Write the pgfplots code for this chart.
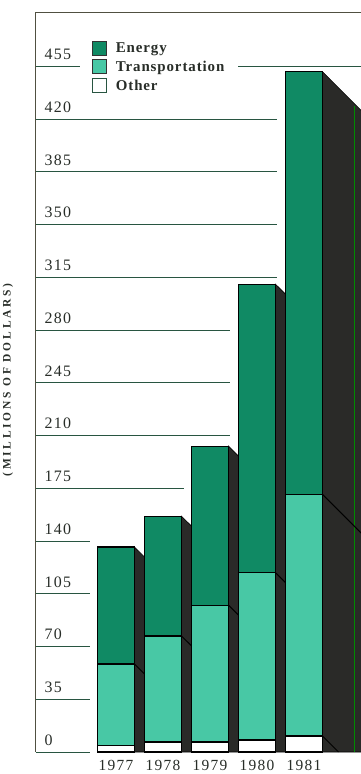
\documentclass[border=0pt]{standalone}
\usepackage{fontspec}
\setmainfont[LetterSpace=8]{Liberation Serif}
\newfontfamily\lblfont[LetterSpace=24]{Liberation Serif}
\newfontfamily\legfont[LetterSpace=6]{Liberation Serif}
\usepackage{pgfplots}
\pgfplotsset{compat=1.18}
\definecolor{energy}{RGB}{16,138,100}
\definecolor{transp}{RGB}{72,200,165}
\definecolor{shade}{RGB}{42,42,40}
\definecolor{gridc}{RGB}{40,85,65}
\definecolor{txt}{RGB}{40,45,40}
\definecolor{frame}{RGB}{80,80,65}
\begin{document}
\begin{tikzpicture}
\useasboundingbox (0,0) rectangle (361bp,774bp);
\begin{axis}[
  at={(36bp,22bp)}, anchor=south west,
  scale only axis, width=325bp, height=739bp,
  xmin=-1.7021, xmax=5.2128, ymin=0, ymax=490.5,
  clip=false,
  axis line style={draw=none},
  major tick length=0,
  /pgf/number format/assume math mode=true,
  xtick={0,...,4}, xticklabels={1977,1978,1979,1980,1981},
  xticklabel style={font=\fontsize{15.5}{15.5}\selectfont, text=txt, yshift=-5bp},
  ytick={0,35,...,455},
  yticklabel style={anchor=south west, xshift=5bp, yshift=3bp, font=\fontsize{16}{16}\selectfont, text=txt},
  ylabel={\lblfont\bfseries (MILLIONS OF DOLLARS)},
  ylabel style={at={(axis description cs:-0.0862,0.5034)}, anchor=center, font=\fontsize{11.5}{11.5}\selectfont, text=txt},
  legend style={at={(axis description cs:0.135,0.967)}, anchor=north west, fill=white, draw=none,
    font=\fontsize{15}{15}\selectfont\legfont\bfseries, text=txt, row sep=3bp, inner xsep=12bp, inner ysep=3bp,
    /tikz/every odd column/.style={column sep=7bp}},
  legend cell align=left,
]
% gridlines
\addplot[gridc, line width=1bp, forget plot, unbounded coords=jump] coordinates {
(-1.7021,0)(-0.553,0) (0,nan)
(-1.7021,35)(-0.553,35) (0,nan)
(-1.7021,70)(-0.553,70) (0,nan)
(-1.7021,105)(-0.553,105) (0,nan)
(-1.7021,140)(-0.553,140) (0,nan)
(-1.7021,175)(1.447,175) (0,nan)
(-1.7021,210)(2.426,210) (0,nan)
(-1.7021,245)(2.426,245) (0,nan)
(-1.7021,280)(2.426,280) (0,nan)
(-1.7021,315)(3.426,315) (0,nan)
(-1.7021,350)(3.426,350) (0,nan)
(-1.7021,385)(3.426,385) (0,nan)
(-1.7021,420)(3.426,420) (0,nan)
(-1.7021,455)(5.3,455)
};
% frame: left and top
\addplot[frame, line width=1bp, forget plot] coordinates {(-1.7021,0)(-1.7021,490.5)(5.3,490.5)};
% shadows
\addplot[fill=shade, draw=black, line width=0.6bp, forget plot] coordinates {(0.3936,0)(0.3936,136)(0.6064,129.4)(0.6064,0)} \closedcycle;
\addplot[fill=shade, draw=black, line width=0.6bp, forget plot] coordinates {(1.3936,0)(1.3936,156.5)(1.6064,149.9)(1.6064,0)} \closedcycle;
\addplot[fill=shade, draw=black, line width=0.6bp, forget plot] coordinates {(2.3936,0)(2.3936,203)(2.6064,196.4)(2.6064,0)} \closedcycle;
\addplot[fill=shade, draw=black, line width=0.6bp, forget plot] coordinates {(3.3936,0)(3.3936,310.5)(3.6064,303.9)(3.6064,0)} \closedcycle;
\addplot[fill=shade, draw=black, line width=0.6bp, forget plot] coordinates {(4.3936,0)(4.3936,451.5)(5.4,420.1)(5.4,0)} \closedcycle;
\addplot[green!55!black, line width=0.8bp, forget plot] coordinates {(5.064,0)(5.064,429)};
% shadow boundary diagonals
\addplot[black, line width=1bp, forget plot, unbounded coords=jump] coordinates {
(0.3936,58.4)(0.6064,51.8) (0,nan)
(1.3936,77)(1.6064,70.4) (0,nan)
(2.3936,97.5)(2.6064,90.9) (0,nan)
(3.3936,119)(3.6064,112.4) (0,nan)
(4.3936,171)(5.4,139.6) (0,nan)
(4.3936,10.6)(4.7334,0)
};
% bars (drawn overlapping from 0: total, transport top, other top)
\addplot[ybar, bar width=0.787, bar shift=0, fill=energy, draw=black, line width=1.2bp,
  legend image code/.code={\draw[fill=energy, draw=black!80, line width=0.8bp] (0bp,-7bp) rectangle (14bp,7bp);}]
  coordinates {(0,136)(1,156.5)(2,203)(3,310.5)(4,451.5)};
\addlegendentry{Energy}
\addplot[ybar, bar width=0.787, bar shift=0, fill=transp, draw=black, line width=1.2bp,
  legend image code/.code={\draw[fill=transp, draw=black!80, line width=0.8bp] (0bp,-7bp) rectangle (14bp,7bp);}]
  coordinates {(0,58.4)(1,77)(2,97.5)(3,119)(4,171)};
\addlegendentry{Transportation}
\addplot[ybar, bar width=0.787, bar shift=0, fill=white, draw=black, line width=1.2bp,
  legend image code/.code={\draw[fill=white, draw=gridc, line width=0.8bp] (0bp,-7bp) rectangle (14bp,7bp);}]
  coordinates {(0,4.2)(1,6.6)(2,6.6)(3,8)(4,10.6)};
\addlegendentry{Other}
\end{axis}
\end{tikzpicture}
\end{document}
